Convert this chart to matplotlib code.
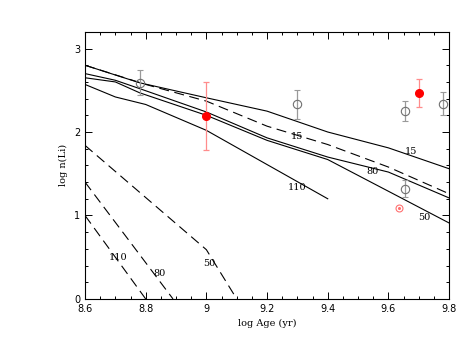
import numpy as np
import matplotlib
matplotlib.use("Agg")
import matplotlib.pyplot as plt
from matplotlib.ticker import MultipleLocator

# model tracks: solid = rotating models, dashed = depletion curves
age_15 = [8.6, 8.78, 9.0, 9.2, 9.4, 9.6, 9.8]
li_15 = [2.80, 2.59, 2.41, 2.25, 2.00, 1.81, 1.56]

age_15d = [8.6, 8.8, 9.0, 9.2, 9.4, 9.6, 9.8]
li_15d = [2.80, 2.57, 2.37, 2.07, 1.85, 1.58, 1.26]

age_80 = [8.6, 8.7, 8.78, 9.0, 9.2, 9.4, 9.6, 9.8]
li_80 = [2.70, 2.62, 2.52, 2.24, 1.93, 1.70, 1.52, 1.21]

age_50 = [8.6, 8.7, 8.78, 9.0, 9.2, 9.4, 9.8]
li_50 = [2.65, 2.60, 2.47, 2.20, 1.90, 1.67, 0.91]

age_110 = [8.6, 8.7, 8.8, 9.0, 9.4]
li_110 = [2.57, 2.42, 2.33, 2.02, 1.20]

age_110d = [8.6, 8.8]
li_110d = [1.0, 0.0]
age_80d = [8.6, 8.89]
li_80d = [1.40, 0.0]
age_50d = [8.6, 9.0, 9.1]
li_50d = [1.84, 0.59, 0.0]

# observed clusters
obs_age = [8.78, 9.30, 9.655, 9.78, 9.655]
obs_li = [2.59, 2.33, 2.25, 2.34, 1.32]
obs_err = [0.15, 0.17, 0.12, 0.14, 0.10]

red_age = [9.0, 9.70]
red_li = [2.19, 2.47]
red_err = [0.41, 0.165]

dot_age = [9.636]
dot_li = [1.09]

fig = plt.figure(figsize=(4.63, 3.58), dpi=100)
ax = fig.add_axes([0.1836, 0.165, 0.7864, 0.746])

lw = 0.8
dash = (0, (9, 5))
ax.plot(age_15, li_15, color="black", lw=lw)
ax.plot(age_15d, li_15d, color="black", lw=lw, linestyle=dash)
ax.plot(age_80, li_80, color="black", lw=lw)
ax.plot(age_50, li_50, color="black", lw=lw)
ax.plot(age_110, li_110, color="black", lw=lw)
ax.plot(age_110d, li_110d, color="black", lw=lw, linestyle=dash)
ax.plot(age_80d, li_80d, color="black", lw=lw, linestyle=dash)
ax.plot(age_50d, li_50d, color="black", lw=lw, linestyle=dash)

ax.errorbar(obs_age, obs_li, yerr=obs_err, fmt="o", mfc="none", mec="#707070",
            ms=6, mew=0.8, ecolor="#9a9a9a", elinewidth=0.9, capsize=2.5, capthick=0.9)
ax.errorbar(red_age, red_li, yerr=red_err, fmt="o", color="red", ms=5.5,
            ecolor="#ff8c8c", elinewidth=0.9, capsize=2.5, capthick=0.9)
ax.plot(dot_age, dot_li, "o", mfc="none", mec="#ff7070", ms=5, mew=0.8)
ax.plot(dot_age, dot_li, "o", color="#ff7070", ms=1.2)

fs = 7
lab = dict(fontsize=fs, family="DejaVu Serif", ha="center", va="center")
ax.text(9.30, 1.95, "15", **lab)
ax.text(9.675, 1.77, "15", **lab)
ax.text(9.548, 1.53, "80", **lab)
ax.text(9.718, 0.98, "50", **lab)
ax.text(9.30, 1.33, "110", **lab)
ax.text(8.71, 0.50, "110", **lab)
ax.text(8.845, 0.30, "80", **lab)
ax.text(9.01, 0.42, "50", **lab)

ax.set_xlim(8.6, 9.8)
ax.set_ylim(0, 3.2)
ax.xaxis.set_major_locator(MultipleLocator(0.2))
ax.xaxis.set_minor_locator(MultipleLocator(0.05))
ax.yaxis.set_major_locator(MultipleLocator(1))
ax.yaxis.set_minor_locator(MultipleLocator(0.2))
ax.set_xticks([8.6, 8.8, 9.0, 9.2, 9.4, 9.6, 9.8])
ax.set_xticklabels(["8.6", "8.8", "9", "9.2", "9.4", "9.6", "9.8"])
ax.tick_params(which="both", direction="in", top=True, right=True, labelsize=fs, width=0.7)
ax.tick_params(which="major", length=5)
ax.tick_params(which="minor", length=2.5)
for s in ax.spines.values():
    s.set_linewidth(0.8)

ax.set_xlabel("log Age (yr)", fontsize=fs, family="DejaVu Serif")
ax.set_ylabel("log n(Li)", fontsize=fs, family="DejaVu Serif")

fig.savefig("out.png", dpi=100)
